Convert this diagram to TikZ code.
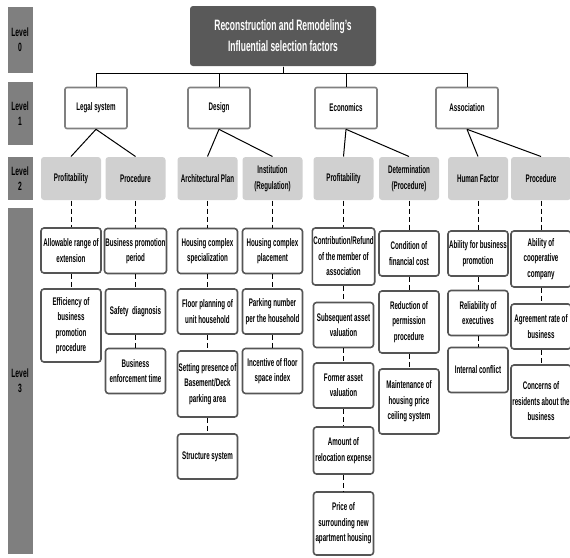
\documentclass[tikz,border=0pt]{standalone}
\usepackage{fontspec}
\setmainfont{Liberation Sans}[FakeStretch=0.565]
\usetikzlibrary{positioning}
\definecolor{lvlgray}{HTML}{7F7F7F}
\definecolor{goalgray}{HTML}{595959}
\definecolor{subgray}{HTML}{D0D0D0}
\definecolor{edgegray}{HTML}{555555}

\begin{document}
\begin{tikzpicture}[x=1pt, y=-1pt, line width=1pt,
lvl/.style={rectangle, fill=lvlgray, minimum width=25, inner sep=0pt,
align=center, font=\bfseries\fontsize{12}{15}\selectfont},
goal/.style={rectangle, rounded corners=3pt, fill=goalgray, text=white,
minimum width=186, minimum height=60, align=center, font=\bfseries\fontsize{15}{21}\selectfont},
crit/.style={rectangle, rounded corners=2pt, draw=gray, line width=1.6pt, fill=white,
minimum width=62, minimum height=41, font=\bfseries\fontsize{11}{12}\selectfont},
subcrit/.style={rectangle, rounded corners=3pt, fill=subgray, minimum width=60,
minimum height=43, inner sep=1pt, align=center, font=\bfseries\fontsize{11}{15.5}\selectfont},
factor/.style={rectangle, rounded corners=3pt, draw=edgegray, line width=1.6pt, fill=white,
minimum width=60, minimum height=45, inner sep=1pt, align=center, font=\bfseries\fontsize{11}{15.5}\selectfont},
link/.style={dash pattern=on 5pt off 3pt}]
  \useasboundingbox (0,0) rectangle (570,557);
  % level labels
  \node[lvl, minimum height=66]  (lv0) at (20,40)    {Level\\0};
  \node[lvl, minimum height=63]  (lv1) at (20,113.5) {Level\\1};
  \node[lvl, minimum height=43]  (lv2) at (20,178.5) {Level\\2};
  \node[lvl, minimum height=346] (lv3) at (20,381)   {Level\\3};
  % level 0
  \node[goal] (goal) at (283,36) {Reconstruction and Remodeling’s\\Influential selection factors};
  % level 1
  \node[crit] (legal)  at (96,108)  {Legal system};
  \node[crit] (design) at (219,108) {Design};
  \node[crit] (econ)   at (346,108) {Economics};
  \node[crit] (assoc)  at (467,108) {Association};
  % level 2
  \node[subcrit] (prof)   at (71,178.5)  {Profitability};
  \node[subcrit] (proc)   at (135.5,178.5) {Procedure};
  \node[subcrit] (arch)   at (207.5,178.5) {Architectural Plan};
  \node[subcrit] (inst)   at (272.5,178.5) {Institution\\(Regulation)};
  \node[subcrit] (eprof)  at (343.5,178.5) {Profitability};
  \node[subcrit] (determ) at (409,178.5)   {Determination\\(Procedure)};
  \node[subcrit] (human)  at (478,178.5)   {Human Factor};
  \node[subcrit] (aproc)  at (541,178.5)   {Procedure};
  % level 3
  \node[factor] (a1) at (71,250.5) {Allowable range of\\extension};
  \node[factor, minimum height=73] (a2) at (71,325.5) {Efficiency of\\business\\promotion\\procedure};
  \node[factor] (b1) at (135.5,251)   {Business promotion\\period};
  \node[factor] (b2) at (135.5,311.5) {Safety\ \ diagnosis};
  \node[factor] (b3) at (135.5,371)   {Business\\enforcement time};
  \node[factor] (c1) at (207.5,251)   {Housing complex\\specialization};
  \node[factor] (c2) at (207.5,311.5) {Floor planning of\\unit household};
  \node[factor, minimum height=66] (c3) at (207.5,384) {Setting presence of\\Basement/Deck\\parking area};
  \node[factor] (c4) at (207.5,456.5) {Structure system};
  \node[factor] (d1) at (272.5,251)   {Housing complex\\placement};
  \node[factor] (d2) at (272.5,311.5) {Parking number\\per the household};
  \node[factor] (d3) at (272.5,371)   {Incentive of floor\\space index};
  \node[factor, minimum height=57] (e1) at (343.5,256.5) {Contribution/Refund\\of the member of\\association};
  \node[factor] (e2) at (343.5,325)   {Subsequent asset\\valuation};
  \node[factor] (e3) at (343.5,385.5) {Former asset\\valuation};
  \node[factor, minimum height=47] (e4) at (343.5,450.5) {Amount of\\relocation expense};
  \node[factor, minimum height=63] (e5) at (343.5,523.5) {Price of\\surrounding new\\apartment housing};
  \node[factor] (f1) at (409,253.5) {Condition of\\financial cost};
  \node[factor, minimum height=62] (f2) at (409,322) {Reduction of\\permission\\procedure};
  \node[factor, minimum height=65] (f3) at (409,401.5) {Maintenance of\\housing price\\ceiling system};
  \node[factor] (g1) at (478,253.5) {Ability for business\\promotion};
  \node[factor] (g2) at (478,313)   {Reliability of\\executives};
  \node[factor] (g3) at (478,370)   {Internal conflict};
  \node[factor, minimum height=56] (h1) at (541,259) {Ability of\\cooperative\\company};
  \node[factor] (h2) at (541,326.5) {Agreement rate of\\business};
  \node[factor, minimum height=73] (h3) at (541,401.5) {Concerns of\\residents about the\\business};

\foreach \to in {legal,design,econ,assoc}
    \draw (goal.south) -- ++(0,7) -| (\to.north);
\foreach \from/\to in {legal/prof,legal/proc,design/arch,design/inst,econ/eprof,econ/determ,assoc/human,assoc/aproc}
    \draw (\from.south) -- (\to.north);
\foreach \from/\to in {prof/a1,a1/a2,proc/b1,b1/b2,b2/b3,arch/c1,c1/c2,c2/c3,c3/c4,inst/d1,d1/d2,d2/d3,
  eprof/e1,e1/e2,e2/e3,e3/e4,e4/e5,determ/f1,f1/f2,f2/f3,human/g1,g1/g2,g2/g3,aproc/h1,h1/h2,h2/h3}
    \draw[link] (\from.south) -- (\to.north);
\end{tikzpicture}
\end{document}
